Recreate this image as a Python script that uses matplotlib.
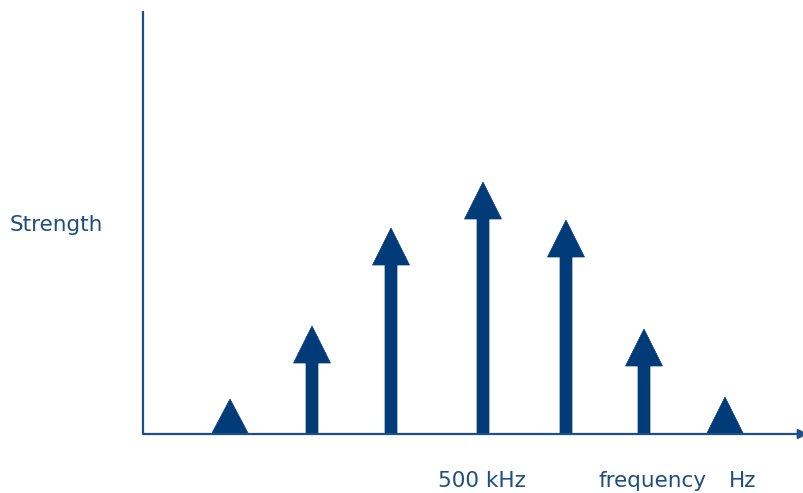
import matplotlib
matplotlib.use("Agg")
import matplotlib.pyplot as plt
from matplotlib.patches import Polygon

# Spectral lines: position along the frequency axis and relative strength
positions = [87, 169, 248, 340, 423, 501, 582]
strengths = [35, 108, 206, 252, 214, 105, 37]

arrow_color = "#013b78"
axis_color = "#1c4f8e"
text_color = "#1f4e80"

shaft_w = 12
head_w = 37
head_len = 37

fig = plt.figure(figsize=(8.04, 4.93), dpi=100)
ax = fig.add_axes([0, 0, 1, 1])
x0 = 143  # origin of the axes in figure units
y0 = 434
ax.set_xlim(-x0, 804 - x0)
ax.set_ylim(-(493 - y0), y0)
ax.axis("off")

# axes lines
ax.plot([0, 0], [0, y0 - 11], color=axis_color, lw=1.6, solid_capstyle="butt")
ax.annotate("", xy=(804 - x0 + 4, 0), xytext=(0, 0), annotation_clip=False,
            arrowprops=dict(arrowstyle="-|>", color=axis_color, lw=1.6,
                            mutation_scale=14, shrinkA=0, shrinkB=0))

for x, h in zip(positions, strengths):
    hl = min(head_len, h)
    base = h - hl
    pts = [(x - shaft_w / 2, 0), (x + shaft_w / 2, 0),
           (x + shaft_w / 2, base), (x + head_w / 2, base),
           (x, h), (x - head_w / 2, base), (x - shaft_w / 2, base)]
    if base <= 0:
        pts = [(x - head_w / 2, 0), (x + head_w / 2, 0), (x, h)]
    ax.add_patch(Polygon(pts, closed=True, facecolor=arrow_color,
                         edgecolor=arrow_color, lw=0.5))

font = dict(color=text_color, fontsize=15.5, family="DejaVu Sans")
ax.text(10 - x0, y0 - 225, "Strength", ha="left", va="center", **font)
ax.text(438 - x0, y0 - 481, "500 kHz", ha="left", va="center", **font)
ax.text(599 - x0, y0 - 481, "frequency", ha="left", va="center", **font)
ax.text(729 - x0, y0 - 481, "Hz", ha="left", va="center", **font)

fig.savefig("out.png", dpi=100)
